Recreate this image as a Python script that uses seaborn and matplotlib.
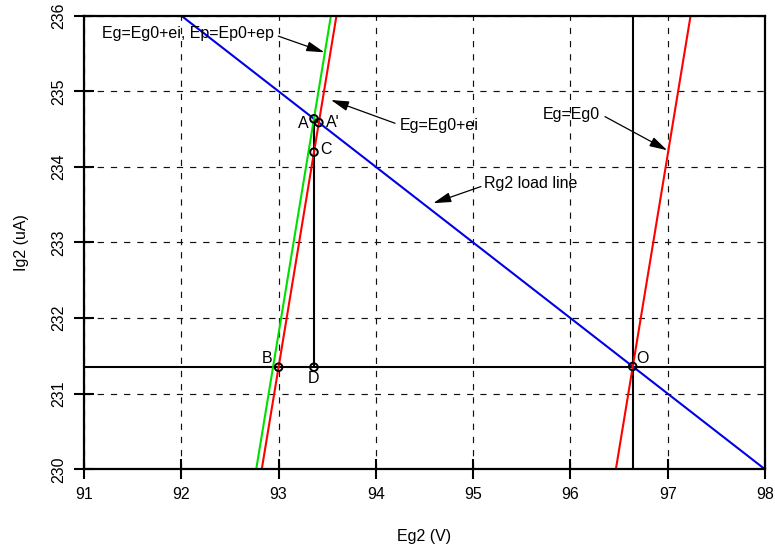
import matplotlib
matplotlib.use("Agg")
import matplotlib.pyplot as plt
import seaborn as sns
import pandas as pd

# ---------------- data ----------------
ig_ends = [230.0, 236.0]                 # Ig2 at line ends (uA)
eg_red_right = [96.467, 97.235]          # Eg=Eg0
eg_red_left = [92.827, 93.595]           # Eg=Eg0+ei
eg_green = [92.770, 93.538]              # Eg=Eg0+ei, Ep=Ep0+ep
load_eg = [92.0, 98.0]                   # Rg2 load line
load_ig = [236.0, 230.0]
ig_q = 231.35                            # quiescent Ig2
eg_o = 96.64                             # quiescent Eg2
eg_a = 93.364                            # Eg2 at A / C / D
ig_a = 234.636

pt_names = ["A", "A'", "C", "B", "D", "O"]
pt_eg = [93.364, 93.414, 93.364, 93.0, 93.364, 96.64]
pt_ig = [234.636, 234.586, 234.195, 231.35, 231.35, 231.36]

x_ticks = [91, 92, 93, 94, 95, 96, 97, 98]
y_ticks = [230, 231, 232, 233, 234, 235, 236]

# ---------------- style ----------------
sns.set_theme(style="white")
plt.rcParams['font.family'] = ['Liberation Sans', 'DejaVu Sans']
plt.rcParams['lines.scale_dashes'] = False
plt.rcParams['text.color'] = 'black'
plt.rcParams['axes.labelcolor'] = 'black'
plt.rcParams['xtick.color'] = 'black'
plt.rcParams['ytick.color'] = 'black'

fig = plt.figure(figsize=(7.75, 5.53), dpi=100)
ax = fig.add_axes([0.1084, 0.1514, 0.8787, 0.8202])

RED = "#ff0000"
GREEN = "#00e000"
BLUE = "#0000e6"
LW = 1.5

sns.lineplot(x=load_eg, y=load_ig, sort=False, color=BLUE, lw=LW, ax=ax, zorder=3)
sns.lineplot(x=eg_red_right, y=ig_ends, sort=False, color=RED, lw=LW, ax=ax, zorder=3)
sns.lineplot(x=eg_green, y=ig_ends, sort=False, color=GREEN, lw=LW, ax=ax, zorder=3)
sns.lineplot(x=eg_red_left, y=ig_ends, sort=False, color=RED, lw=LW, ax=ax, zorder=3)

ax.axhline(ig_q, color="black", lw=LW, zorder=2.5)
ax.axvline(eg_o, color="black", lw=LW, zorder=2.5)
ax.plot([eg_a, eg_a], [ig_q, ig_a], color="black", lw=LW, zorder=2.5)

sns.scatterplot(x=pt_eg, y=pt_ig, marker="o", s=30, facecolor="none",
                edgecolor="black", linewidth=1.4, ax=ax, zorder=5)

label_pos = {
    "A": (93.25, 234.577),
    "A'": (93.56, 234.59),
    "C": (93.487, 234.224),
    "B": (92.88, 231.47),
    "D": (93.364, 231.195),
    "O": (96.745, 231.47),
}
FS = 11.5
for name in pt_names:
    x, y = label_pos[name]
    ax.text(x, y, name, ha="center", va="center", fontsize=FS, color="black", zorder=6)

# annotations
ax.text(91.18, 235.77, "Eg=Eg0+ei, Ep=Ep0+ep", ha="left", va="center", fontsize=FS, color="black")
ax.text(94.248, 234.554, "Eg=Eg0+ei", ha="left", va="center", fontsize=FS, color="black")
ax.text(96.30, 234.69, "Eg=Eg0", ha="right", va="center", fontsize=FS, color="black")
ax.text(95.115, 233.774, "Rg2 load line", ha="left", va="center", fontsize=FS, color="black")

arrows = [
    ((92.997, 235.73), (93.47, 235.516)),
    ((94.197, 234.577), (93.539, 234.885)),
    ((96.355, 234.665), (96.995, 234.22)),
    ((95.08, 233.74), (94.59, 233.52)),
]
for tail, head in arrows:
    ax.annotate("", xy=head, xytext=tail,
                arrowprops=dict(arrowstyle="-|>,head_length=0.9,head_width=0.25",
                                color="black", lw=0.9, mutation_scale=12,
                                shrinkA=0, shrinkB=0), zorder=6)

ax.set_xlim(91, 98)
ax.set_ylim(230, 236)
ax.set_xticks(x_ticks)
ax.set_yticks(y_ticks)
ax.set_xticklabels([str(t) for t in x_ticks], fontsize=FS)
ax.set_yticklabels([str(t) for t in y_ticks], fontsize=FS, rotation=90, va="center")

ax.grid(True, color="#111111", lw=0.85, linestyle=(0, (4.5, 5.0)), zorder=1)
ax.set_axisbelow(True)

for s in ax.spines.values():
    s.set_color("black")
    s.set_linewidth(1.6)
    s.set_zorder(4)

ax.tick_params(axis="both", direction="inout", length=14, width=1.5,
               colors="black", bottom=True, left=True, top=False, right=False)
ax.tick_params(axis="x", pad=6)
ax.tick_params(axis="y", pad=6)

ax.set_xlabel("Eg2 (V)", fontsize=FS, labelpad=19)
ax.set_ylabel("Ig2 (uA)", fontsize=FS, labelpad=16)

fig.savefig("out.png", dpi=100)
